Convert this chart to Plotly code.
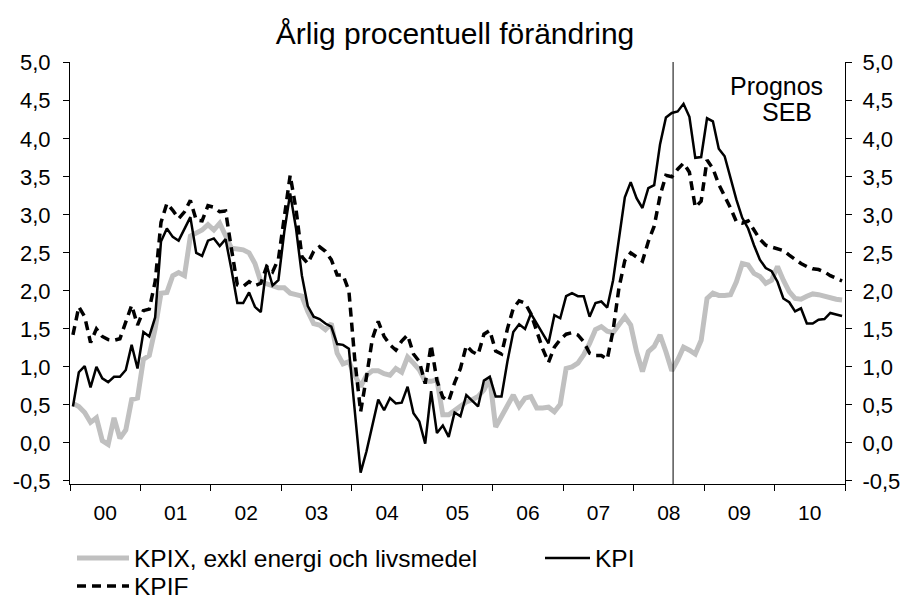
import plotly.graph_objects as go

# Monthly data Jan 2000 - Dec 2010, annual % change
kpix = [
    0.52, 0.48, 0.40, 0.27, 0.33, 0.03, -0.02, 0.33, 0.06, 0.17, 0.57, 0.59,   # 2000
    1.10, 1.15, 1.50, 1.97, 1.98, 2.20, 2.24, 2.20, 2.72, 2.76, 2.80, 2.87,    # 2001
    2.80, 2.89, 2.74, 2.56, 2.55, 2.54, 2.50, 2.36, 2.12, 2.09, 2.06, 2.04,    # 2002
    2.04, 1.97, 1.95, 1.93, 1.73, 1.57, 1.55, 1.49, 1.57, 1.18, 1.04, 1.07,    # 2003
    0.89, 0.74, 0.89, 0.95, 0.95, 0.91, 0.89, 0.98, 0.93, 1.13, 1.05, 0.96,    # 2004
    0.81, 0.81, 0.83, 0.37, 0.37, 0.43, 0.49, 0.54, 0.57, 0.61, 0.70, 0.85,    # 2005
    0.21, 0.35, 0.50, 0.63, 0.48, 0.59, 0.61, 0.46, 0.46, 0.47, 0.41, 0.51,    # 2006
    0.98, 1.00, 1.05, 1.16, 1.31, 1.49, 1.53, 1.47, 1.45, 1.56, 1.66, 1.55,    # 2007
    1.20, 0.94, 1.20, 1.27, 1.42, 1.20, 0.95, 1.09, 1.26, 1.22, 1.17, 1.35,    # 2008
    1.90, 1.97, 1.94, 1.94, 1.95, 2.12, 2.36, 2.34, 2.23, 2.19, 2.10, 2.14,    # 2009
    2.32, 2.14, 1.99, 1.90, 1.89, 1.93, 1.96, 1.95, 1.93, 1.90, 1.89, 1.88,    # 2010
]

kpi = [
    0.48, 0.93, 1.01, 0.73, 1.00, 0.85, 0.80, 0.87, 0.87, 0.96, 1.29, 0.98,    # 2000
    1.46, 1.40, 1.65, 2.65, 2.82, 2.71, 2.66, 2.81, 2.97, 2.50, 2.46, 2.66,    # 2001
    2.69, 2.59, 2.68, 2.28, 1.84, 1.84, 1.98, 1.79, 1.72, 2.34, 2.07, 2.14,    # 2002
    2.78, 3.28, 2.82, 2.20, 1.80, 1.66, 1.63, 1.57, 1.53, 1.30, 1.29, 1.24,    # 2003
    0.40, -0.39, -0.11, 0.21, 0.57, 0.43, 0.59, 0.52, 0.53, 0.74, 0.39, 0.28,  # 2004
    -0.01, 0.68, 0.13, 0.23, 0.08, 0.40, 0.35, 0.63, 0.55, 0.48, 0.82, 0.87,   # 2005
    0.61, 0.61, 1.07, 1.46, 1.56, 1.50, 1.70, 1.57, 1.44, 1.31, 1.68, 1.64,    # 2006
    1.93, 1.97, 1.93, 1.93, 1.66, 1.84, 1.86, 1.78, 2.14, 2.69, 3.23, 3.43,    # 2007
    3.22, 3.09, 3.35, 3.39, 3.93, 4.28, 4.34, 4.36, 4.46, 4.29, 3.75, 3.76,    # 2008
    4.27, 4.23, 3.87, 3.77, 3.48, 3.20, 2.96, 2.82, 2.60, 2.41, 2.30, 2.26,    # 2009
    2.12, 1.90, 1.85, 1.73, 1.77, 1.57, 1.57, 1.62, 1.63, 1.71, 1.69, 1.67,    # 2010
]

kpif = [
    1.42, 1.79, 1.66, 1.32, 1.50, 1.40, 1.36, 1.35, 1.37, 1.58, 1.81, 1.55,    # 2000
    1.74, 1.76, 2.12, 2.90, 3.15, 3.06, 2.95, 3.04, 3.19, 2.93, 2.92, 3.12,    # 2001
    3.10, 3.04, 3.05, 2.55, 2.08, 2.06, 2.12, 2.07, 2.10, 2.32, 2.25, 2.42,    # 2002
    2.98, 3.52, 3.07, 2.45, 2.36, 2.52, 2.58, 2.52, 2.41, 2.21, 2.21, 2.00,    # 2003
    1.10, 0.41, 0.87, 1.37, 1.60, 1.40, 1.29, 1.22, 1.34, 1.42, 1.17, 1.07,    # 2004
    0.78, 1.29, 0.82, 0.60, 0.55, 0.79, 0.98, 1.28, 1.20, 1.16, 1.43, 1.48,    # 2005
    1.21, 1.17, 1.50, 1.77, 1.87, 1.84, 1.70, 1.46, 1.24, 1.06, 1.26, 1.36,    # 2006
    1.43, 1.45, 1.42, 1.33, 1.18, 1.15, 1.15, 1.10, 1.48, 2.04, 2.40, 2.50,    # 2007
    2.45, 2.39, 2.65, 2.85, 3.25, 3.52, 3.50, 3.60, 3.68, 3.56, 3.10, 3.18,    # 2008
    3.72, 3.61, 3.40, 3.25, 3.09, 2.91, 2.89, 2.92, 2.79, 2.68, 2.60, 2.58,    # 2009
    2.55, 2.53, 2.47, 2.41, 2.36, 2.32, 2.29, 2.28, 2.25, 2.20, 2.17, 2.13,    # 2010
]

year_labels = ["00", "01", "02", "03", "04", "05", "06", "07", "08", "09", "10"]
first_year = 2000
forecast_start = 2008.56  # SEB forecast marker

y_ticks = [-0.5, 0.0, 0.5, 1.0, 1.5, 2.0, 2.5, 3.0, 3.5, 4.0, 4.5, 5.0]
y_ticktext = [f"{v:.1f}".replace(".", ",") for v in y_ticks]

months = [first_year + (i + 0.5) / 12 for i in range(len(kpi))]
year_centers = [first_year + k + 0.5 for k in range(len(year_labels))]
year_bounds = [first_year + k for k in range(len(year_labels) + 1)]

FONT = "Liberation Sans, Arial, sans-serif"
# page body has an 8px margin, so the figure is drawn at (8, 8)
W, H = 900, 593

fig = go.Figure()
fig.add_trace(go.Scatter(x=months, y=kpix, mode="lines", name="KPIX, exkl energi och livsmedel",
                         line=dict(color="#c0c0c0", width=5), legend="legend"))
fig.add_trace(go.Scatter(x=months, y=kpi, mode="lines", name="KPI",
                         line=dict(color="black", width=2.5), legend="legend2"))
fig.add_trace(go.Scatter(x=months, y=kpif, mode="lines", name="KPIF",
                         line=dict(color="black", width=3.5, dash="9px,6px"), legend="legend3"))
# right axis companion (invisible)
fig.add_trace(go.Scatter(x=months, y=kpi, mode="lines", yaxis="y2", showlegend=False,
                         line=dict(width=0), hoverinfo="skip", opacity=0))

fig.add_shape(type="line", xref="x", yref="paper", x0=forecast_start, x1=forecast_start,
              y0=0, y1=1, line=dict(color="black", width=1))

fig.add_annotation(text="Prognos", xref="paper", yref="paper", x=0.912, y=0.943,
                   xanchor="center", yanchor="middle",
                   showarrow=False, font=dict(size=25, color="black", family=FONT))
fig.add_annotation(text="SEB", xref="paper", yref="paper", x=0.925, y=0.882,
                   xanchor="center", yanchor="middle",
                   showarrow=False, font=dict(size=25, color="black", family=FONT))

yax = dict(range=[-0.54, 5.01], tickvals=y_ticks, ticktext=y_ticktext, ticks="outside",
           ticklen=6, tickcolor="black", showline=True, linecolor="black", linewidth=1,
           showgrid=False, zeroline=False, tickfont=dict(size=22, color="black", family=FONT))

leg_common = dict(orientation="v", xref="container", yref="container", xanchor="left",
                  yanchor="middle", font=dict(size=24.5, color="black", family=FONT),
                  bgcolor="rgba(0,0,0,0)", borderwidth=0)

fig.update_layout(
    width=W, height=H,
    margin=dict(l=62, r=63, t=54, b=117, autoexpand=False),
    paper_bgcolor="white", plot_bgcolor="white",
    font=dict(family=FONT, color="black"),
    title=dict(text="Årlig procentuell förändring", x=447 / W, xanchor="center",
               y=1 - 25 / H, yanchor="middle", font=dict(size=30, color="black", family=FONT)),
    xaxis=dict(range=[first_year, first_year + len(year_labels)], tickvals=year_centers,
               ticktext=year_labels, ticks="", showline=True, linecolor="black", linewidth=1,
               showgrid=False, zeroline=False, ticklabelstandoff=10,
               tickfont=dict(size=21, color="black", family=FONT),
               minor=dict(tickvals=year_bounds, ticks="outside", ticklen=6, tickcolor="black",
                          showgrid=False)),
    yaxis=dict(yax, ticklabelstandoff=8),
    yaxis2=dict(yax, overlaying="y", side="right", anchor="x", ticklabelstandoff=6),
    legend=dict(leg_common, x=64 / W, y=1 - 550 / H, itemwidth=52),
    legend2=dict(leg_common, x=532 / W, y=1 - 550 / H, itemwidth=45),
    legend3=dict(leg_common, x=64 / W, y=1 - 578 / H, itemwidth=52),
    showlegend=True,
)

fig.write_html("out.html")
